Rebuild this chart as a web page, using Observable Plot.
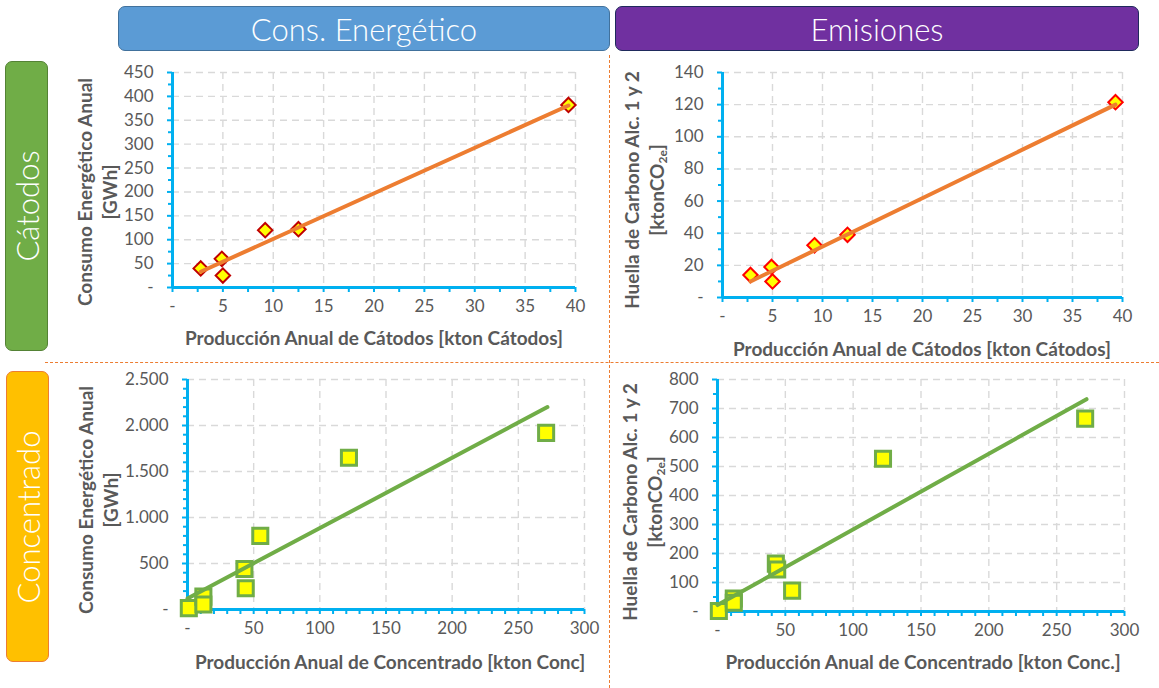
<!DOCTYPE html>
<html>
<head>
<meta charset="utf-8">
<script src="https://cdn.jsdelivr.net/npm/d3@7"></script>
<script src="https://cdn.jsdelivr.net/npm/@observablehq/plot@0.6"></script>
<style>
  body { margin: 0; background: #fff; font-family: Lato, "Open Sans", sans-serif; }
  #root { position: relative; width: 1159px; height: 688px; overflow: hidden; background: #fff; }
  .hdr { position: absolute; box-sizing: border-box; border-radius: 7px; color: #fff; font-size: 31px; font-weight: 300;
         display: flex; align-items: center; justify-content: center; }
  .side { position: absolute; box-sizing: border-box; border-radius: 7px; }
  .side span { position: absolute; left: 50%; top: 50%; transform: translate(-50%, -50%) rotate(-90deg);
               color: #fff; font-size: 31px; font-weight: 300; white-space: nowrap; }
  .sep-h { position: absolute; height: 0; border-top: 1px dashed #ED7D31; }
  .sep-v { position: absolute; width: 0; border-left: 1px dashed #ED7D31; }
  .panel { position: absolute; }
  .xt { position: absolute; transform: translate(-50%, -50%); font-weight: bold; color: #595959; font-size: 19px; white-space: nowrap; }
  .yt { position: absolute; transform: translate(-50%, -50%) rotate(-90deg); font-weight: bold; color: #595959; font-size: 19px;
        white-space: nowrap; text-align: center; line-height: 25px; }
  .yt sub { font-size: 12px; vertical-align: -3px; line-height: 0; }
</style>
</head>
<body>
<div id="root">
  <div class="sep-h" style="left:45px; top:362px; width:1114px;"></div>
  <div class="sep-v" style="left:609px; top:55px; height:633px;"></div>

  <div class="hdr" style="left:118px; top:6px; width:492px; height:45px; background:#5B9BD5; border:1.5px solid #41719C;">Cons. Energético</div>
  <div class="hdr" style="left:615px; top:6px; width:524px; height:45px; background:#7030A0; border:1.5px solid #1F2A5C;">Emisiones</div>

  <div class="side" style="left:5px; top:61px; width:43px; height:290px; background:#70AD47; border:1.5px solid #548235;"><span>Cátodos</span></div>
  <div class="side" style="left:6px; top:371px; width:43px; height:291px; background:#FFC000; border:1.5px solid #ED7D31;"><span>Concentrado</span></div>

  <div id="p1" class="panel"></div>
  <div id="p2" class="panel"></div>
  <div id="p3" class="panel"></div>
  <div id="p4" class="panel"></div>

  <div class="xt" style="left:374px; top:337px;">Producción Anual de Cátodos [kton Cátodos]</div>
  <div class="xt" style="left:922px; top:348px;">Producción Anual de Cátodos [kton Cátodos]</div>
  <div class="xt" style="left:390px; top:661px;">Producción Anual de Concentrado [kton Conc]</div>
  <div class="xt" style="left:923px; top:661px;">Producción Anual de Concentrado [kton Conc.]</div>

  <div class="yt" style="left:97px; top:192px;">Consumo Energético Anual<br>[GWh]</div>
  <div class="yt" style="left:644px; top:190px;">Huella de Carbono Alc. 1 y 2<br>[ktonCO<sub>2e</sub>]</div>
  <div class="yt" style="left:98px; top:500px;">Consumo Energético Anual<br>[GWh]</div>
  <div class="yt" style="left:642px; top:502px;">Huella de Carbono Alc. 1 y 2<br>[ktonCO<sub>2e</sub>]</div>
</div>

<script>
// ---- Data ----
const catodosProd = [2.8, 4.9, 5.0, 9.2, 12.5, 39.3];
const catodosEnergia = [40, 60, 25, 120, 122, 382];
const catodosEmis = [14, 19, 10, 32.5, 39, 121.5];

const concProd = [1, 12, 12, 43, 44, 55, 122, 271];
const concEnergia = [15, 140, 55, 440, 230, 800, 1650, 1920];
const concProdEmis = [1, 12, 12, 43, 44, 55, 122, 271];
const concEmis = [2, 45, 30, 165, 145, 72, 527, 665];

// trend line end points
const catTrendX = [2.8, 39.3];
const catTrendEnergia = [33, 381];
const catTrendEmis = [10, 120];
const concTrendX = [0, 272];
const concTrendEnergia = [120, 2200];
const concTrendEmis = [22, 732];

// ticks
const catXTicks = [0, 5, 10, 15, 20, 25, 30, 35, 40];
const catEnergiaTicks = [0, 50, 100, 150, 200, 250, 300, 350, 400, 450];
const catEmisTicks = [0, 20, 40, 60, 80, 100, 120, 140];
const concXTicks = [0, 50, 100, 150, 200, 250, 300];
const concEnergiaTicks = [0, 500, 1000, 1500, 2000, 2500];
const concEmisTicks = [0, 100, 200, 300, 400, 500, 600, 700, 800];

const CYAN = "#00B0F0", GRID = "#D9D9D9", TXT = "#595959";
const fmt = d => d === 0 ? "-" : d3.format(",")(d).replace(/,/g, ".");
const minorOf = (ticks, n) => {
  const out = [];
  for (let i = 0; i < ticks.length - 1; i++) {
    const a = ticks[i], b = ticks[i + 1];
    for (let k = 1; k < n; k++) out.push(a + (b - a) * k / n);
  }
  return out;
};
const pts = (xs, ys) => xs.map((x, i) => ({x, y: ys[i]}));

function panel(id, box, frame, cfg) {
  const el = document.getElementById(id);
  el.style.left = box.left + "px";
  el.style.top = box.top + "px";
  const chart = Plot.plot({
    width: box.width,
    height: box.height,
    marginLeft: frame.l - box.left,
    marginRight: box.left + box.width - frame.r,
    marginTop: frame.t - box.top,
    marginBottom: box.top + box.height - frame.b,
    x: {domain: [0, cfg.xTicks[cfg.xTicks.length - 1]], label: null},
    y: {domain: [0, cfg.yTicks[cfg.yTicks.length - 1]], label: null},
    style: {fontFamily: "Lato, 'Open Sans', sans-serif", fontSize: "17px", color: TXT, background: "transparent", overflow: "visible"},
    marks: [
      Plot.gridX(cfg.xTicks.filter(d => d > 0), {stroke: GRID, strokeOpacity: 1, strokeWidth: 1.4, strokeDasharray: "7,5"}),
      Plot.gridY(cfg.yTicks.filter(d => d > 0), {stroke: GRID, strokeOpacity: 1, strokeWidth: 1.4, strokeDasharray: "7,5"}),
      Plot.axisY(minorOf(cfg.yTicks, cfg.yMinor), {tickSize: 4, stroke: CYAN, strokeWidth: 2, fill: "none", label: null}),
      Plot.axisX(minorOf(cfg.xTicks, cfg.xMinor), {tickSize: 5, stroke: CYAN, strokeWidth: 2, fill: "none", label: null}),
      Plot.axisY(cfg.yTicks, {tickSize: 5, stroke: CYAN, strokeWidth: 2, tickPadding: 14, tickFormat: fmt, fill: TXT, label: null}),
      Plot.axisX(cfg.xTicks, {tickSize: 5, stroke: CYAN, strokeWidth: 2, tickPadding: 7, tickFormat: fmt, fill: TXT, label: null}),
      Plot.ruleX([0], {stroke: CYAN, strokeWidth: 3}),
      Plot.ruleY([0], {stroke: CYAN, strokeWidth: 3}),
      Plot.dot(cfg.points, {x: "x", y: "y", symbol: cfg.symbol, r: cfg.r, fill: "#FFFF00", stroke: cfg.markStroke, strokeWidth: cfg.markWidth}),
      Plot.line(cfg.trend, {x: "x", y: "y", stroke: cfg.trendColor, strokeWidth: 4})
    ]
  });
  el.appendChild(chart);
}

panel("p1", {left: 120, top: 58, width: 480, height: 262}, {l: 172, r: 575, t: 72, b: 287}, {
  xTicks: catXTicks, yTicks: catEnergiaTicks, xMinor: 2, yMinor: 2,
  points: pts(catodosProd, catodosEnergia), trend: pts(catTrendX, catTrendEnergia),
  symbol: "diamond2", r: 6.5, markStroke: "#C00000", markWidth: 2, trendColor: "#ED7D31"
});
panel("p2", {left: 670, top: 58, width: 480, height: 262}, {l: 722, r: 1122, t: 72, b: 297}, {
  xTicks: catXTicks, yTicks: catEmisTicks, xMinor: 2, yMinor: 2,
  points: pts(catodosProd, catodosEmis), trend: pts(catTrendX, catTrendEmis),
  symbol: "diamond2", r: 6.5, markStroke: "#FF0000", markWidth: 2, trendColor: "#ED7D31"
});
panel("p3", {left: 135, top: 365, width: 470, height: 275}, {l: 187, r: 584, t: 379, b: 609}, {
  xTicks: concXTicks, yTicks: concEnergiaTicks, xMinor: 5, yMinor: 5,
  points: pts(concProd, concEnergia), trend: pts(concTrendX, concTrendEnergia),
  symbol: "square", r: 8.5, markStroke: "#70AD47", markWidth: 3, trendColor: "#70AD47"
});
panel("p4", {left: 665, top: 365, width: 485, height: 275}, {l: 717, r: 1124, t: 379, b: 611}, {
  xTicks: concXTicks, yTicks: concEmisTicks, xMinor: 5, yMinor: 2,
  points: pts(concProdEmis, concEmis), trend: pts(concTrendX, concTrendEmis),
  symbol: "square", r: 8.5, markStroke: "#70AD47", markWidth: 3, trendColor: "#70AD47"
});
</script>
</body>
</html>
